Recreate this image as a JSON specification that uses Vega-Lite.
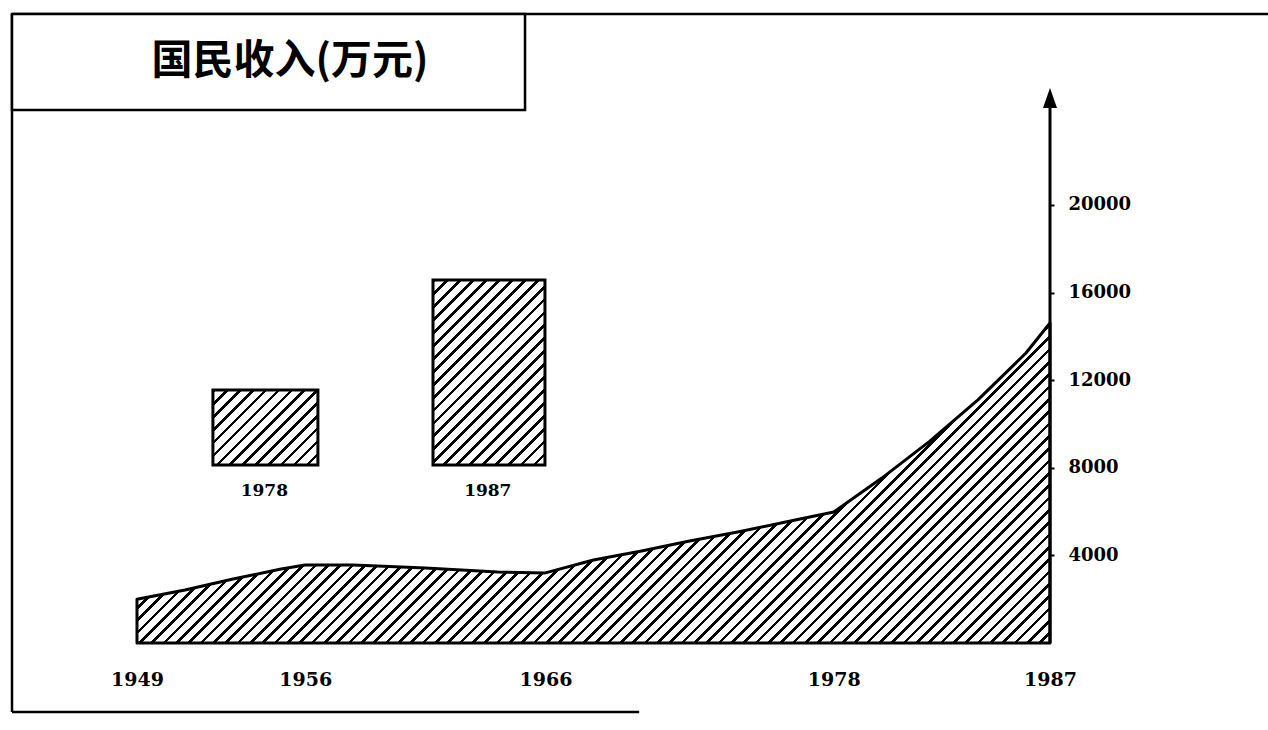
{
  "$schema": "https://vega.github.io/schema/vega-lite/v6.json",
  "width": 1256,
  "height": 698,
  "autosize": {"type": "none"},
  "padding": {"left": 12, "top": 14, "right": 0, "bottom": 18},
  "background": "white",
  "config": {"view": {"stroke": null}},
  "resolve": {"axis": {"x": "independent", "y": "independent"}},
  "datasets": {
    "one": [{"k": 1}],
    "income": [
      {"year": 1949, "income": 2000},
      {"year": 1951, "income": 2420},
      {"year": 1953, "income": 2920},
      {"year": 1955, "income": 3380},
      {"year": 1956, "income": 3560},
      {"year": 1958, "income": 3560},
      {"year": 1961, "income": 3420},
      {"year": 1964, "income": 3240},
      {"year": 1966, "income": 3200},
      {"year": 1968, "income": 3790},
      {"year": 1970, "income": 4200},
      {"year": 1972, "income": 4660},
      {"year": 1974, "income": 5070},
      {"year": 1976, "income": 5525},
      {"year": 1978, "income": 5980},
      {"year": 1980, "income": 7530},
      {"year": 1982, "income": 9220},
      {"year": 1984, "income": 11100},
      {"year": 1986, "income": 13240},
      {"year": 1987, "income": 14610}
    ],
    "inset": [
      {"label": "1978", "x0": 1952.16, "x1": 1956.53, "mid": 1954.3, "base": 8128, "top": 11553},
      {"label": "1987", "x0": 1961.32, "x1": 1965.98, "mid": 1963.6, "base": 8128, "top": 16575}
    ]
  },
  "layer": [
    {
      "data": {"name": "one"},
      "mark": {"type": "rule", "color": "black", "strokeWidth": 2.5},
      "encoding": {
        "x": {"datum": 1943.7974, "type": "quantitative", "scale": {"domain": [1943.7974, 1996.0734], "nice": false, "zero": false}, "axis": null},
        "x2": {"datum": 1996.0734},
        "y": {"datum": 28721.4, "type": "quantitative", "scale": {"domain": [-3150.7, 28721.4], "nice": false, "zero": false}, "axis": null}
      }
    },
    {
      "data": {"name": "one"},
      "mark": {"type": "rule", "color": "black", "strokeWidth": 2.5},
      "encoding": {
        "x": {"datum": 1943.7974, "type": "quantitative", "scale": {"domain": [1943.7974, 1996.0734], "nice": false, "zero": false}, "axis": null},
        "y": {"datum": -3150.7, "type": "quantitative", "scale": {"domain": [-3150.7, 28721.4], "nice": false, "zero": false}, "axis": null},
        "y2": {"datum": 28721.4}
      }
    },
    {
      "data": {"name": "one"},
      "mark": {"type": "rule", "color": "black", "strokeWidth": 2.5},
      "encoding": {
        "x": {"datum": 1943.7974, "type": "quantitative", "scale": {"domain": [1943.7974, 1996.0734], "nice": false, "zero": false}, "axis": null},
        "x2": {"datum": 1969.9},
        "y": {"datum": -3150.7, "type": "quantitative", "scale": {"domain": [-3150.7, 28721.4], "nice": false, "zero": false}, "axis": null}
      }
    },
    {
      "data": {"name": "one"},
      "mark": {"type": "rect", "fill": "white", "stroke": "black", "strokeWidth": 2.5},
      "encoding": {
        "x": {"datum": 1943.7974, "type": "quantitative", "scale": {"domain": [1943.7974, 1996.0734], "nice": false, "zero": false}, "axis": null},
        "x2": {"datum": 1965.15},
        "y": {"datum": 24338, "type": "quantitative", "scale": {"domain": [-3150.7, 28721.4], "nice": false, "zero": false}, "axis": null},
        "y2": {"datum": 28721.4}
      }
    },
    {
      "data": {"name": "one"},
      "mark": {"type": "text", "text": "国民收入(万元)", "font": "Noto Sans CJK SC", "fontWeight": "bold", "fontSize": 41, "color": "black", "align": "center", "baseline": "middle"},
      "encoding": {
        "x": {"datum": 1955.37, "type": "quantitative", "scale": {"domain": [1943.7974, 1996.0734], "nice": false, "zero": false}, "axis": null},
        "y": {"datum": 26530, "type": "quantitative", "scale": {"domain": [-3150.7, 28721.4], "nice": false, "zero": false}, "axis": null}
      }
    },
    {
      "data": {"name": "income"},
      "mark": {
        "type": "area",
        "stroke": "black",
        "strokeWidth": 3,
        "strokeJoin": "round",
        "fill": {
          "gradient": "linear", "x1": 0, "y1": 0, "x2": 1.2028, "y2": 0.4216,
          "stops": [
{"offset":0,"color":"#000"},{"offset":0.003,"color":"#000"},{"offset":0.003,"color":"#fff"},{"offset":0.01,"color":"#fff"},
{"offset":0.01,"color":"#000"},{"offset":0.013,"color":"#000"},{"offset":0.013,"color":"#fff"},{"offset":0.02,"color":"#fff"},
{"offset":0.02,"color":"#000"},{"offset":0.023,"color":"#000"},{"offset":0.023,"color":"#fff"},{"offset":0.03,"color":"#fff"},
{"offset":0.03,"color":"#000"},{"offset":0.033,"color":"#000"},{"offset":0.033,"color":"#fff"},{"offset":0.04,"color":"#fff"},
{"offset":0.04,"color":"#000"},{"offset":0.043,"color":"#000"},{"offset":0.043,"color":"#fff"},{"offset":0.05,"color":"#fff"},
{"offset":0.05,"color":"#000"},{"offset":0.053,"color":"#000"},{"offset":0.053,"color":"#fff"},{"offset":0.06,"color":"#fff"},
{"offset":0.06,"color":"#000"},{"offset":0.063,"color":"#000"},{"offset":0.063,"color":"#fff"},{"offset":0.07,"color":"#fff"},
{"offset":0.07,"color":"#000"},{"offset":0.073,"color":"#000"},{"offset":0.073,"color":"#fff"},{"offset":0.08,"color":"#fff"},
{"offset":0.08,"color":"#000"},{"offset":0.083,"color":"#000"},{"offset":0.083,"color":"#fff"},{"offset":0.09,"color":"#fff"},
{"offset":0.09,"color":"#000"},{"offset":0.093,"color":"#000"},{"offset":0.093,"color":"#fff"},{"offset":0.1,"color":"#fff"},
{"offset":0.1,"color":"#000"},{"offset":0.103,"color":"#000"},{"offset":0.103,"color":"#fff"},{"offset":0.11,"color":"#fff"},
{"offset":0.11,"color":"#000"},{"offset":0.113,"color":"#000"},{"offset":0.113,"color":"#fff"},{"offset":0.12,"color":"#fff"},
{"offset":0.12,"color":"#000"},{"offset":0.123,"color":"#000"},{"offset":0.123,"color":"#fff"},{"offset":0.13,"color":"#fff"},
{"offset":0.13,"color":"#000"},{"offset":0.133,"color":"#000"},{"offset":0.133,"color":"#fff"},{"offset":0.14,"color":"#fff"},
{"offset":0.14,"color":"#000"},{"offset":0.143,"color":"#000"},{"offset":0.143,"color":"#fff"},{"offset":0.15,"color":"#fff"},
{"offset":0.15,"color":"#000"},{"offset":0.153,"color":"#000"},{"offset":0.153,"color":"#fff"},{"offset":0.16,"color":"#fff"},
{"offset":0.16,"color":"#000"},{"offset":0.163,"color":"#000"},{"offset":0.163,"color":"#fff"},{"offset":0.17,"color":"#fff"},
{"offset":0.17,"color":"#000"},{"offset":0.173,"color":"#000"},{"offset":0.173,"color":"#fff"},{"offset":0.18,"color":"#fff"},
{"offset":0.18,"color":"#000"},{"offset":0.183,"color":"#000"},{"offset":0.183,"color":"#fff"},{"offset":0.19,"color":"#fff"},
{"offset":0.19,"color":"#000"},{"offset":0.193,"color":"#000"},{"offset":0.193,"color":"#fff"},{"offset":0.2,"color":"#fff"},
{"offset":0.2,"color":"#000"},{"offset":0.203,"color":"#000"},{"offset":0.203,"color":"#fff"},{"offset":0.21,"color":"#fff"},
{"offset":0.21,"color":"#000"},{"offset":0.213,"color":"#000"},{"offset":0.213,"color":"#fff"},{"offset":0.22,"color":"#fff"},
{"offset":0.22,"color":"#000"},{"offset":0.223,"color":"#000"},{"offset":0.223,"color":"#fff"},{"offset":0.23,"color":"#fff"},
{"offset":0.23,"color":"#000"},{"offset":0.233,"color":"#000"},{"offset":0.233,"color":"#fff"},{"offset":0.24,"color":"#fff"},
{"offset":0.24,"color":"#000"},{"offset":0.243,"color":"#000"},{"offset":0.243,"color":"#fff"},{"offset":0.25,"color":"#fff"},
{"offset":0.25,"color":"#000"},{"offset":0.253,"color":"#000"},{"offset":0.253,"color":"#fff"},{"offset":0.26,"color":"#fff"},
{"offset":0.26,"color":"#000"},{"offset":0.263,"color":"#000"},{"offset":0.263,"color":"#fff"},{"offset":0.27,"color":"#fff"},
{"offset":0.27,"color":"#000"},{"offset":0.273,"color":"#000"},{"offset":0.273,"color":"#fff"},{"offset":0.28,"color":"#fff"},
{"offset":0.28,"color":"#000"},{"offset":0.283,"color":"#000"},{"offset":0.283,"color":"#fff"},{"offset":0.29,"color":"#fff"},
{"offset":0.29,"color":"#000"},{"offset":0.293,"color":"#000"},{"offset":0.293,"color":"#fff"},{"offset":0.3,"color":"#fff"},
{"offset":0.3,"color":"#000"},{"offset":0.303,"color":"#000"},{"offset":0.303,"color":"#fff"},{"offset":0.31,"color":"#fff"},
{"offset":0.31,"color":"#000"},{"offset":0.313,"color":"#000"},{"offset":0.313,"color":"#fff"},{"offset":0.32,"color":"#fff"},
{"offset":0.32,"color":"#000"},{"offset":0.323,"color":"#000"},{"offset":0.323,"color":"#fff"},{"offset":0.33,"color":"#fff"},
{"offset":0.33,"color":"#000"},{"offset":0.333,"color":"#000"},{"offset":0.333,"color":"#fff"},{"offset":0.34,"color":"#fff"},
{"offset":0.34,"color":"#000"},{"offset":0.343,"color":"#000"},{"offset":0.343,"color":"#fff"},{"offset":0.35,"color":"#fff"},
{"offset":0.35,"color":"#000"},{"offset":0.353,"color":"#000"},{"offset":0.353,"color":"#fff"},{"offset":0.36,"color":"#fff"},
{"offset":0.36,"color":"#000"},{"offset":0.363,"color":"#000"},{"offset":0.363,"color":"#fff"},{"offset":0.37,"color":"#fff"},
{"offset":0.37,"color":"#000"},{"offset":0.373,"color":"#000"},{"offset":0.373,"color":"#fff"},{"offset":0.38,"color":"#fff"},
{"offset":0.38,"color":"#000"},{"offset":0.383,"color":"#000"},{"offset":0.383,"color":"#fff"},{"offset":0.39,"color":"#fff"},
{"offset":0.39,"color":"#000"},{"offset":0.393,"color":"#000"},{"offset":0.393,"color":"#fff"},{"offset":0.4,"color":"#fff"},
{"offset":0.4,"color":"#000"},{"offset":0.403,"color":"#000"},{"offset":0.403,"color":"#fff"},{"offset":0.41,"color":"#fff"},
{"offset":0.41,"color":"#000"},{"offset":0.413,"color":"#000"},{"offset":0.413,"color":"#fff"},{"offset":0.42,"color":"#fff"},
{"offset":0.42,"color":"#000"},{"offset":0.423,"color":"#000"},{"offset":0.423,"color":"#fff"},{"offset":0.43,"color":"#fff"},
{"offset":0.43,"color":"#000"},{"offset":0.433,"color":"#000"},{"offset":0.433,"color":"#fff"},{"offset":0.44,"color":"#fff"},
{"offset":0.44,"color":"#000"},{"offset":0.443,"color":"#000"},{"offset":0.443,"color":"#fff"},{"offset":0.45,"color":"#fff"},
{"offset":0.45,"color":"#000"},{"offset":0.453,"color":"#000"},{"offset":0.453,"color":"#fff"},{"offset":0.46,"color":"#fff"},
{"offset":0.46,"color":"#000"},{"offset":0.463,"color":"#000"},{"offset":0.463,"color":"#fff"},{"offset":0.47,"color":"#fff"},
{"offset":0.47,"color":"#000"},{"offset":0.473,"color":"#000"},{"offset":0.473,"color":"#fff"},{"offset":0.48,"color":"#fff"},
{"offset":0.48,"color":"#000"},{"offset":0.483,"color":"#000"},{"offset":0.483,"color":"#fff"},{"offset":0.49,"color":"#fff"},
{"offset":0.49,"color":"#000"},{"offset":0.493,"color":"#000"},{"offset":0.493,"color":"#fff"},{"offset":0.5,"color":"#fff"},
{"offset":0.5,"color":"#000"},{"offset":0.503,"color":"#000"},{"offset":0.503,"color":"#fff"},{"offset":0.51,"color":"#fff"},
{"offset":0.51,"color":"#000"},{"offset":0.513,"color":"#000"},{"offset":0.513,"color":"#fff"},{"offset":0.52,"color":"#fff"},
{"offset":0.52,"color":"#000"},{"offset":0.523,"color":"#000"},{"offset":0.523,"color":"#fff"},{"offset":0.53,"color":"#fff"},
{"offset":0.53,"color":"#000"},{"offset":0.533,"color":"#000"},{"offset":0.533,"color":"#fff"},{"offset":0.54,"color":"#fff"},
{"offset":0.54,"color":"#000"},{"offset":0.543,"color":"#000"},{"offset":0.543,"color":"#fff"},{"offset":0.55,"color":"#fff"},
{"offset":0.55,"color":"#000"},{"offset":0.553,"color":"#000"},{"offset":0.553,"color":"#fff"},{"offset":0.56,"color":"#fff"},
{"offset":0.56,"color":"#000"},{"offset":0.563,"color":"#000"},{"offset":0.563,"color":"#fff"},{"offset":0.57,"color":"#fff"},
{"offset":0.57,"color":"#000"},{"offset":0.573,"color":"#000"},{"offset":0.573,"color":"#fff"},{"offset":0.58,"color":"#fff"},
{"offset":0.58,"color":"#000"},{"offset":0.583,"color":"#000"},{"offset":0.583,"color":"#fff"},{"offset":0.59,"color":"#fff"},
{"offset":0.59,"color":"#000"},{"offset":0.593,"color":"#000"},{"offset":0.593,"color":"#fff"},{"offset":0.6,"color":"#fff"},
{"offset":0.6,"color":"#000"},{"offset":0.603,"color":"#000"},{"offset":0.603,"color":"#fff"},{"offset":0.61,"color":"#fff"},
{"offset":0.61,"color":"#000"},{"offset":0.613,"color":"#000"},{"offset":0.613,"color":"#fff"},{"offset":0.62,"color":"#fff"},
{"offset":0.62,"color":"#000"},{"offset":0.623,"color":"#000"},{"offset":0.623,"color":"#fff"},{"offset":0.63,"color":"#fff"},
{"offset":0.63,"color":"#000"},{"offset":0.633,"color":"#000"},{"offset":0.633,"color":"#fff"},{"offset":0.64,"color":"#fff"},
{"offset":0.64,"color":"#000"},{"offset":0.643,"color":"#000"},{"offset":0.643,"color":"#fff"},{"offset":0.65,"color":"#fff"},
{"offset":0.65,"color":"#000"},{"offset":0.653,"color":"#000"},{"offset":0.653,"color":"#fff"},{"offset":0.66,"color":"#fff"},
{"offset":0.66,"color":"#000"},{"offset":0.663,"color":"#000"},{"offset":0.663,"color":"#fff"},{"offset":0.67,"color":"#fff"},
{"offset":0.67,"color":"#000"},{"offset":0.673,"color":"#000"},{"offset":0.673,"color":"#fff"},{"offset":0.68,"color":"#fff"},
{"offset":0.68,"color":"#000"},{"offset":0.683,"color":"#000"},{"offset":0.683,"color":"#fff"},{"offset":0.69,"color":"#fff"},
{"offset":0.69,"color":"#000"},{"offset":0.693,"color":"#000"},{"offset":0.693,"color":"#fff"},{"offset":0.7,"color":"#fff"},
{"offset":0.7,"color":"#000"},{"offset":0.703,"color":"#000"},{"offset":0.703,"color":"#fff"},{"offset":0.71,"color":"#fff"},
{"offset":0.71,"color":"#000"},{"offset":0.713,"color":"#000"},{"offset":0.713,"color":"#fff"},{"offset":0.72,"color":"#fff"},
{"offset":0.72,"color":"#000"},{"offset":0.723,"color":"#000"},{"offset":0.723,"color":"#fff"},{"offset":0.73,"color":"#fff"},
{"offset":0.73,"color":"#000"},{"offset":0.733,"color":"#000"},{"offset":0.733,"color":"#fff"},{"offset":0.74,"color":"#fff"},
{"offset":0.74,"color":"#000"},{"offset":0.743,"color":"#000"},{"offset":0.743,"color":"#fff"},{"offset":0.75,"color":"#fff"},
{"offset":0.75,"color":"#000"},{"offset":0.753,"color":"#000"},{"offset":0.753,"color":"#fff"},{"offset":0.76,"color":"#fff"},
{"offset":0.76,"color":"#000"},{"offset":0.763,"color":"#000"},{"offset":0.763,"color":"#fff"},{"offset":0.77,"color":"#fff"},
{"offset":0.77,"color":"#000"},{"offset":0.773,"color":"#000"},{"offset":0.773,"color":"#fff"},{"offset":0.78,"color":"#fff"},
{"offset":0.78,"color":"#000"},{"offset":0.783,"color":"#000"},{"offset":0.783,"color":"#fff"},{"offset":0.79,"color":"#fff"},
{"offset":0.79,"color":"#000"},{"offset":0.793,"color":"#000"},{"offset":0.793,"color":"#fff"},{"offset":0.8,"color":"#fff"},
{"offset":0.8,"color":"#000"},{"offset":0.803,"color":"#000"},{"offset":0.803,"color":"#fff"},{"offset":0.81,"color":"#fff"},
{"offset":0.81,"color":"#000"},{"offset":0.813,"color":"#000"},{"offset":0.813,"color":"#fff"},{"offset":0.82,"color":"#fff"},
{"offset":0.82,"color":"#000"},{"offset":0.823,"color":"#000"},{"offset":0.823,"color":"#fff"},{"offset":0.83,"color":"#fff"},
{"offset":0.83,"color":"#000"},{"offset":0.833,"color":"#000"},{"offset":0.833,"color":"#fff"},{"offset":0.84,"color":"#fff"},
{"offset":0.84,"color":"#000"},{"offset":0.843,"color":"#000"},{"offset":0.843,"color":"#fff"},{"offset":0.85,"color":"#fff"},
{"offset":0.85,"color":"#000"},{"offset":0.853,"color":"#000"},{"offset":0.853,"color":"#fff"},{"offset":0.86,"color":"#fff"},
{"offset":0.86,"color":"#000"},{"offset":0.863,"color":"#000"},{"offset":0.863,"color":"#fff"},{"offset":0.87,"color":"#fff"},
{"offset":0.87,"color":"#000"},{"offset":0.873,"color":"#000"},{"offset":0.873,"color":"#fff"},{"offset":0.88,"color":"#fff"},
{"offset":0.88,"color":"#000"},{"offset":0.883,"color":"#000"},{"offset":0.883,"color":"#fff"},{"offset":0.89,"color":"#fff"},
{"offset":0.89,"color":"#000"},{"offset":0.893,"color":"#000"},{"offset":0.893,"color":"#fff"},{"offset":0.9,"color":"#fff"},
{"offset":0.9,"color":"#000"},{"offset":0.903,"color":"#000"},{"offset":0.903,"color":"#fff"},{"offset":0.91,"color":"#fff"},
{"offset":0.91,"color":"#000"},{"offset":0.913,"color":"#000"},{"offset":0.913,"color":"#fff"},{"offset":0.92,"color":"#fff"},
{"offset":0.92,"color":"#000"},{"offset":0.923,"color":"#000"},{"offset":0.923,"color":"#fff"},{"offset":0.93,"color":"#fff"},
{"offset":0.93,"color":"#000"},{"offset":0.933,"color":"#000"},{"offset":0.933,"color":"#fff"},{"offset":0.94,"color":"#fff"},
{"offset":0.94,"color":"#000"},{"offset":0.943,"color":"#000"},{"offset":0.943,"color":"#fff"},{"offset":0.95,"color":"#fff"},
{"offset":0.95,"color":"#000"},{"offset":0.953,"color":"#000"},{"offset":0.953,"color":"#fff"},{"offset":0.96,"color":"#fff"},
{"offset":0.96,"color":"#000"},{"offset":0.963,"color":"#000"},{"offset":0.963,"color":"#fff"},{"offset":0.97,"color":"#fff"},
{"offset":0.97,"color":"#000"},{"offset":0.973,"color":"#000"},{"offset":0.973,"color":"#fff"},{"offset":0.98,"color":"#fff"},
{"offset":0.98,"color":"#000"},{"offset":0.983,"color":"#000"},{"offset":0.983,"color":"#fff"},{"offset":0.99,"color":"#fff"},
{"offset":0.99,"color":"#000"},{"offset":0.993,"color":"#000"},{"offset":0.993,"color":"#fff"},{"offset":1,"color":"#fff"}
          ]
        }
      },
      "encoding": {
        "x": {
          "field": "year", "type": "quantitative",
          "scale": {"domain": [1943.7974, 1996.0734], "nice": false, "zero": false},
          "axis": {"orient": "bottom", "offset": -69, "values": [1949, 1956, 1966, 1978, 1987], "format": "d", "domain": false, "ticks": false, "grid": false, "labelPadding": 27, "labelFont": "DejaVu Serif", "labelFontWeight": "bold", "labelFontSize": 19, "labelColor": "black", "title": null}
        },
        "y": {
          "field": "income", "type": "quantitative",
          "scale": {"domain": [-3150.7, 28721.4], "nice": false, "zero": false},
          "axis": {"orient": "right", "offset": -218, "values": [4000, 8000, 12000, 16000, 20000], "format": "d", "domain": false, "ticks": true, "tickSize": 4, "tickWidth": 2, "tickColor": "black", "grid": false, "labelPadding": 14, "labelFont": "DejaVu Serif", "labelFontWeight": "bold", "labelFontSize": 18, "labelColor": "black", "title": null}
        }
      }
    },
    {
      "data": {"name": "one"},
      "mark": {"type": "rule", "color": "black", "strokeWidth": 3},
      "encoding": {
        "x": {"datum": 1987, "type": "quantitative", "scale": {"domain": [1943.7974, 1996.0734], "nice": false, "zero": false}, "axis": null},
        "y": {"datum": 0, "type": "quantitative", "scale": {"domain": [-3150.7, 28721.4], "nice": false, "zero": false}, "axis": null},
        "y2": {"datum": 24795}
      }
    },
    {
      "data": {"name": "one"},
      "mark": {"type": "point", "shape": "M0,-1L0.7,1L-0.7,1Z", "filled": true, "color": "black", "size": 400, "opacity": 1},
      "encoding": {
        "x": {"datum": 1987, "type": "quantitative", "scale": {"domain": [1943.7974, 1996.0734], "nice": false, "zero": false}, "axis": null},
        "y": {"datum": 24886, "type": "quantitative", "scale": {"domain": [-3150.7, 28721.4], "nice": false, "zero": false}, "axis": null}
      }
    },
    {
      "data": {"name": "inset"},
      "transform": [{"filter": "datum.label === '1978'"}],
      "mark": {
        "type": "rect", "stroke": "black", "strokeWidth": 3,
        "fill": {
          "gradient": "linear", "x1": 0, "y1": 0, "x2": 1.1351, "y2": 0.8108,
          "stops": [
{"offset":0,"color":"#000"},{"offset":0.02,"color":"#000"},{"offset":0.02,"color":"#fff"},{"offset":0.0714,"color":"#fff"},
{"offset":0.0714,"color":"#000"},{"offset":0.0914,"color":"#000"},{"offset":0.0914,"color":"#fff"},{"offset":0.1429,"color":"#fff"},
{"offset":0.1429,"color":"#000"},{"offset":0.1629,"color":"#000"},{"offset":0.1629,"color":"#fff"},{"offset":0.2143,"color":"#fff"},
{"offset":0.2143,"color":"#000"},{"offset":0.2343,"color":"#000"},{"offset":0.2343,"color":"#fff"},{"offset":0.2857,"color":"#fff"},
{"offset":0.2857,"color":"#000"},{"offset":0.3057,"color":"#000"},{"offset":0.3057,"color":"#fff"},{"offset":0.3571,"color":"#fff"},
{"offset":0.3571,"color":"#000"},{"offset":0.3771,"color":"#000"},{"offset":0.3771,"color":"#fff"},{"offset":0.4286,"color":"#fff"},
{"offset":0.4286,"color":"#000"},{"offset":0.4486,"color":"#000"},{"offset":0.4486,"color":"#fff"},{"offset":0.5,"color":"#fff"},
{"offset":0.5,"color":"#000"},{"offset":0.52,"color":"#000"},{"offset":0.52,"color":"#fff"},{"offset":0.5714,"color":"#fff"},
{"offset":0.5714,"color":"#000"},{"offset":0.5914,"color":"#000"},{"offset":0.5914,"color":"#fff"},{"offset":0.6429,"color":"#fff"},
{"offset":0.6429,"color":"#000"},{"offset":0.6629,"color":"#000"},{"offset":0.6629,"color":"#fff"},{"offset":0.7143,"color":"#fff"},
{"offset":0.7143,"color":"#000"},{"offset":0.7343,"color":"#000"},{"offset":0.7343,"color":"#fff"},{"offset":0.7857,"color":"#fff"},
{"offset":0.7857,"color":"#000"},{"offset":0.8057,"color":"#000"},{"offset":0.8057,"color":"#fff"},{"offset":0.8571,"color":"#fff"},
{"offset":0.8571,"color":"#000"},{"offset":0.8771,"color":"#000"},{"offset":0.8771,"color":"#fff"},{"offset":0.9286,"color":"#fff"},
{"offset":0.9286,"color":"#000"},{"offset":0.9486,"color":"#000"},{"offset":0.9486,"color":"#fff"},{"offset":1,"color":"#fff"}
          ]
        }
      },
      "encoding": {
        "x": {"field": "x0", "type": "quantitative", "scale": {"domain": [1943.7974, 1996.0734], "nice": false, "zero": false}, "axis": null},
        "x2": {"field": "x1"},
        "y": {"field": "base", "type": "quantitative", "scale": {"domain": [-3150.7, 28721.4], "nice": false, "zero": false}, "axis": null},
        "y2": {"field": "top"}
      }
    },
    {
      "data": {"name": "inset"},
      "transform": [{"filter": "datum.label === '1987'"}],
      "mark": {
        "type": "rect", "stroke": "black", "strokeWidth": 3,
        "fill": {
          "gradient": "linear", "x1": 0, "y1": 0, "x2": 0.7112, "y2": 1.1748,
          "stops": [
{"offset":0,"color":"#000"},{"offset":0.013,"color":"#000"},{"offset":0.013,"color":"#fff"},{"offset":0.0435,"color":"#fff"},
{"offset":0.0435,"color":"#000"},{"offset":0.0565,"color":"#000"},{"offset":0.0565,"color":"#fff"},{"offset":0.087,"color":"#fff"},
{"offset":0.087,"color":"#000"},{"offset":0.1,"color":"#000"},{"offset":0.1,"color":"#fff"},{"offset":0.1304,"color":"#fff"},
{"offset":0.1304,"color":"#000"},{"offset":0.1434,"color":"#000"},{"offset":0.1434,"color":"#fff"},{"offset":0.1739,"color":"#fff"},
{"offset":0.1739,"color":"#000"},{"offset":0.1869,"color":"#000"},{"offset":0.1869,"color":"#fff"},{"offset":0.2174,"color":"#fff"},
{"offset":0.2174,"color":"#000"},{"offset":0.2304,"color":"#000"},{"offset":0.2304,"color":"#fff"},{"offset":0.2609,"color":"#fff"},
{"offset":0.2609,"color":"#000"},{"offset":0.2739,"color":"#000"},{"offset":0.2739,"color":"#fff"},{"offset":0.3043,"color":"#fff"},
{"offset":0.3043,"color":"#000"},{"offset":0.3173,"color":"#000"},{"offset":0.3173,"color":"#fff"},{"offset":0.3478,"color":"#fff"},
{"offset":0.3478,"color":"#000"},{"offset":0.3608,"color":"#000"},{"offset":0.3608,"color":"#fff"},{"offset":0.3913,"color":"#fff"},
{"offset":0.3913,"color":"#000"},{"offset":0.4043,"color":"#000"},{"offset":0.4043,"color":"#fff"},{"offset":0.4348,"color":"#fff"},
{"offset":0.4348,"color":"#000"},{"offset":0.4478,"color":"#000"},{"offset":0.4478,"color":"#fff"},{"offset":0.4783,"color":"#fff"},
{"offset":0.4783,"color":"#000"},{"offset":0.4913,"color":"#000"},{"offset":0.4913,"color":"#fff"},{"offset":0.5217,"color":"#fff"},
{"offset":0.5217,"color":"#000"},{"offset":0.5347,"color":"#000"},{"offset":0.5347,"color":"#fff"},{"offset":0.5652,"color":"#fff"},
{"offset":0.5652,"color":"#000"},{"offset":0.5782,"color":"#000"},{"offset":0.5782,"color":"#fff"},{"offset":0.6087,"color":"#fff"},
{"offset":0.6087,"color":"#000"},{"offset":0.6217,"color":"#000"},{"offset":0.6217,"color":"#fff"},{"offset":0.6522,"color":"#fff"},
{"offset":0.6522,"color":"#000"},{"offset":0.6652,"color":"#000"},{"offset":0.6652,"color":"#fff"},{"offset":0.6957,"color":"#fff"},
{"offset":0.6957,"color":"#000"},{"offset":0.7087,"color":"#000"},{"offset":0.7087,"color":"#fff"},{"offset":0.7391,"color":"#fff"},
{"offset":0.7391,"color":"#000"},{"offset":0.7521,"color":"#000"},{"offset":0.7521,"color":"#fff"},{"offset":0.7826,"color":"#fff"},
{"offset":0.7826,"color":"#000"},{"offset":0.7956,"color":"#000"},{"offset":0.7956,"color":"#fff"},{"offset":0.8261,"color":"#fff"},
{"offset":0.8261,"color":"#000"},{"offset":0.8391,"color":"#000"},{"offset":0.8391,"color":"#fff"},{"offset":0.8696,"color":"#fff"},
{"offset":0.8696,"color":"#000"},{"offset":0.8826,"color":"#000"},{"offset":0.8826,"color":"#fff"},{"offset":0.913,"color":"#fff"},
{"offset":0.913,"color":"#000"},{"offset":0.926,"color":"#000"},{"offset":0.926,"color":"#fff"},{"offset":0.9565,"color":"#fff"},
{"offset":0.9565,"color":"#000"},{"offset":0.9695,"color":"#000"},{"offset":0.9695,"color":"#fff"},{"offset":1,"color":"#fff"}
          ]
        }
      },
      "encoding": {
        "x": {"field": "x0", "type": "quantitative", "scale": {"domain": [1943.7974, 1996.0734], "nice": false, "zero": false}, "axis": null},
        "x2": {"field": "x1"},
        "y": {"field": "base", "type": "quantitative", "scale": {"domain": [-3150.7, 28721.4], "nice": false, "zero": false}, "axis": null},
        "y2": {"field": "top"}
      }
    },
    {
      "data": {"name": "inset"},
      "mark": {"type": "text", "font": "DejaVu Serif", "fontWeight": "bold", "fontSize": 17, "color": "black", "align": "center", "baseline": "middle", "dy": 26},
      "encoding": {
        "x": {"field": "mid", "type": "quantitative", "scale": {"domain": [1943.7974, 1996.0734], "nice": false, "zero": false}, "axis": null},
        "y": {"field": "base", "type": "quantitative", "scale": {"domain": [-3150.7, 28721.4], "nice": false, "zero": false}, "axis": null},
        "text": {"field": "label"}
      }
    }
  ]
}
